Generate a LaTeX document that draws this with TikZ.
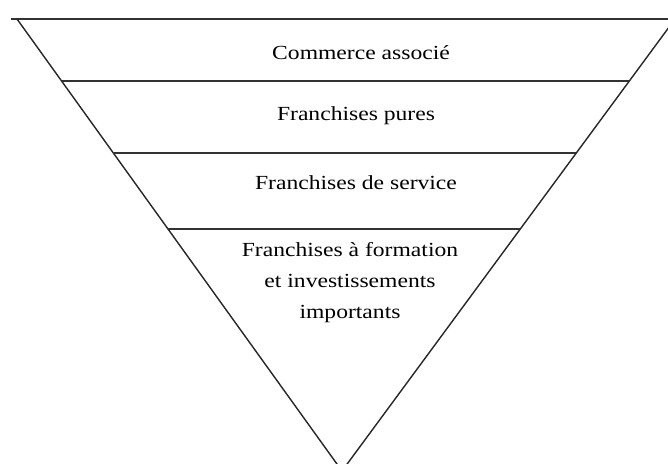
\documentclass[tikz,border=0pt]{standalone}
\usepackage{fontspec}
\setmainfont[FakeStretch=1.18]{Liberation Serif}
\usepackage{tikz}
\usetikzlibrary{calc}
\usetikzlibrary{positioning}

\begin{document}
\begin{tikzpicture} [
            x=1pt, y=-1pt,
            % ----- Style definitions ----- %
            edgeline/.style = {
                draw,
                black!85,
                line width = 1.4pt
            },
            bandline/.style = {
                draw,
                black!80,
                line width = 1.9pt
            },
            bandlabel/.style = {
                align=center,
                inner sep=0pt,
                font=\fontsize{20}{31}\selectfont
            },
    ]

        \useasboundingbox (0,0) rectangle (668,463);
        \clip (0,0) rectangle (668,463);

            % ----- Triangle corners ----- %
        \coordinate (topleft)  at (17,19);
        \coordinate (topright) at (675,19);
        \coordinate (apex)     at (342,471);
        \coordinate (topstart) at (11,19);

            % ----- Outline ----- %
        \draw [bandline] (topstart) -- (topright);
        \draw [edgeline] (topleft) -- (apex) -- (topright);

            % ----- Band separators ----- %
        \foreach \t/\name in {0.137/one, 0.2965/two, 0.4646/three} {
            \coordinate (sepleft\name)  at ($(topleft)!\t!(apex)$);
            \coordinate (sepright\name) at ($(topright)!\t!(apex)$);
            \draw [bandline] (sepleft\name) -- (sepright\name);
        }

            % ----- Band labels ----- %
        \node [bandlabel] (commerce)  at (361,53)  {Commerce associé};
        \node [bandlabel] (pures)     at (356,116) {Franchises pures};
        \node [bandlabel] (service)   at (356,183) {Franchises de service};
        \node [bandlabel] (formation) at (350,283) {Franchises à formation\\
                                                  et investissements\\
                                                  importants};

\end{tikzpicture}
\end{document}
